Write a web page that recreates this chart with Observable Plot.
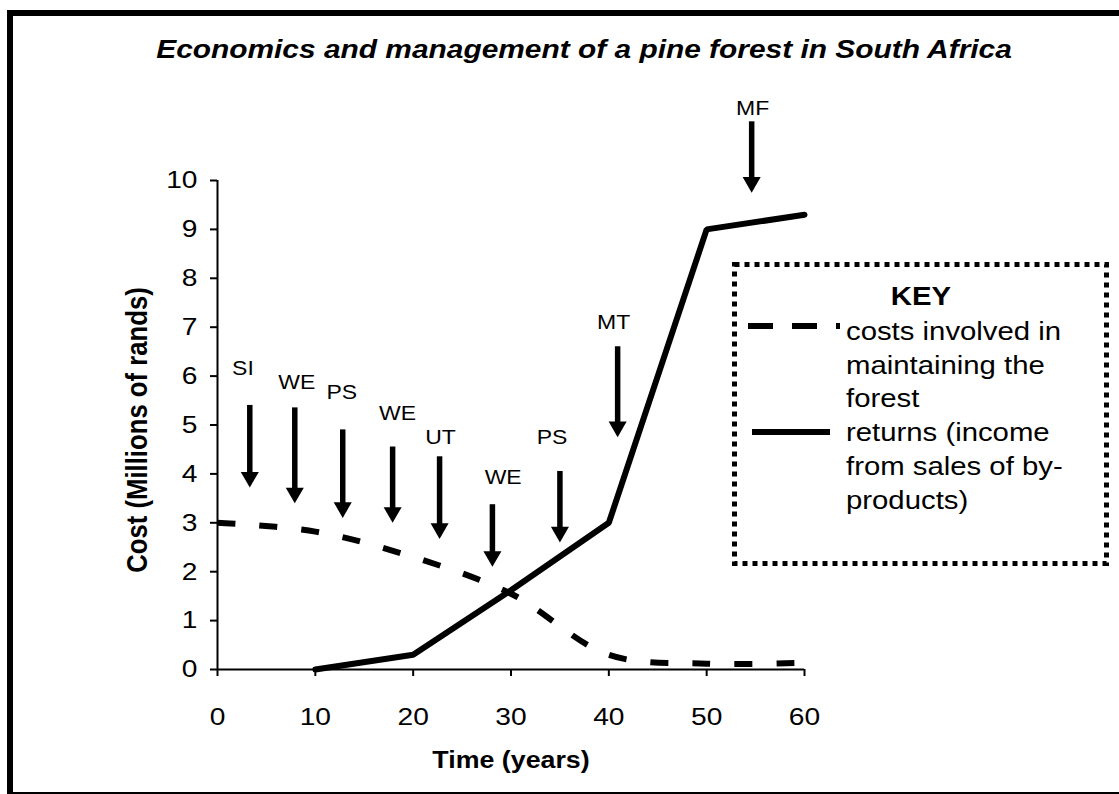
<!DOCTYPE html>
<html><head><meta charset="utf-8">
<script src="https://cdn.jsdelivr.net/npm/d3@7"></script>
<script src="https://cdn.jsdelivr.net/npm/@observablehq/plot@0.6"></script>
<style>
body{margin:0;background:#fff;font-family:"Liberation Sans",Arial,sans-serif;}
#wrap{position:relative;width:1119px;height:794px;overflow:hidden;background:#fff;}
#frame{position:absolute;left:7px;top:10px;width:1200px;height:776px;border:6px solid #000;}
#chart{position:absolute;left:0;top:0;}
#overlay{position:absolute;left:0;top:0;}
</style></head>
<body>
<div id="wrap">
  <div id="frame"></div>
  <div id="chart"></div>
  <svg id="overlay" width="1119" height="794"></svg>
</div>
<script>
// ---- data ----
const titleText = "Economics and management of a pine forest in South Africa";
const xLabel = "Time (years)";
const yLabel = "Cost (Millions of rands)";
const xTicks = [0, 10, 20, 30, 40, 50, 60];
const yTicks = [0, 1, 2, 3, 4, 5, 6, 7, 8, 9, 10];

const costYears = [0, 10, 20, 30, 40, 50, 60];
const costValues = [3.0, 2.82, 2.3, 1.55, 0.3, 0.12, 0.14];
const returnYears = [10, 20, 30, 40, 50, 60];
const returnValues = [0, 0.3, 1.62, 3.0, 9.0, 9.3];

const eventLabels = ["SI", "WE", "PS", "WE", "UT", "WE", "PS", "MT", "MF"];
const eventX      = [3.3, 7.9, 12.8, 17.9, 22.7, 28.1, 35.0, 40.9, 54.6];
const arrowTop    = [5.4, 5.35, 4.9, 4.55, 4.35, 3.37, 4.05, 6.6, 11.2];
const arrowTip    = [3.72, 3.4, 3.1, 3.0, 2.67, 2.1, 2.6, 4.75, 9.75];
const labelX      = [2.6, 8.1, 12.7, 18.4, 22.8, 29.2, 34.2, 40.5, 54.7];
const labelY      = [6.16, 5.87, 5.66, 5.24, 4.74, 3.93, 4.74, 7.1, 11.47];

const legendTitle = "KEY";
const legendCostLines = ["costs involved in", "maintaining the", "forest"];
const legendReturnLines = ["returns (income", "from sales of by-", "products)"];

// ---- tables ----
const costs = costYears.map((x, i) => ({x, y: costValues[i]}));
const returns = returnYears.map((x, i) => ({x, y: returnValues[i]}));
const events = eventLabels.map((label, i) => ({label, x: eventX[i], top: arrowTop[i], tip: arrowTip[i], lx: labelX[i], ly: labelY[i]}));

const font = "'Liberation Sans', Arial, sans-serif";
const S = 1.15; // horizontal stretch of the lettering in the original picture

const chart = Plot.plot({
  width: 1119,
  height: 794,
  marginLeft: 217,
  marginRight: 315,
  marginTop: 180,
  marginBottom: 125,
  style: {fontFamily: font, color: "#000", background: "transparent", overflow: "visible"},
  x: {domain: [0, 60]},
  y: {domain: [0, 10]},
  marks: [
    Plot.axisX({ticks: xTicks, tickSize: 7, tickPadding: 31.5, fontSize: 24.5, label: null, strokeWidth: 2}),
    Plot.axisY({ticks: yTicks, tickSize: 7, tickPadding: 13, fontSize: 24.5, label: null, strokeWidth: 2}),
    Plot.ruleY([0], {stroke: "#000", strokeWidth: 2}),
    Plot.ruleX([0], {stroke: "#000", strokeWidth: 2}),
    Plot.line(costs, {x: "x", y: "y", stroke: "#000", strokeWidth: 6, strokeDasharray: "18,24", curve: "catmull-rom", strokeLinecap: "butt"}),
    Plot.line(returns, {x: "x", y: "y", stroke: "#000", strokeWidth: 6, strokeLinejoin: "miter"}),
    Plot.ruleX(events, {x: "x", y1: "top", y2: "tip", stroke: "#000", strokeWidth: 5.5, insetBottom: 12}),
    Plot.dot(events, {x: "x", y: "tip", symbol: "triangle", r: 6.7, rotate: 180, fill: "#000", stroke: null, dy: -10.4}),
    Plot.text(events, {x: "lx", y: "ly", text: "label", fontSize: 20, fill: "#000"}),
    Plot.text([xLabel], {frameAnchor: "bottom", text: d => d, dy: 91, fontSize: 23.3, fontWeight: "bold", lineAnchor: "middle"}),
    Plot.text([yLabel], {frameAnchor: "left", text: d => d, rotate: -90, dx: -80, dy: 5, textAnchor: "middle", lineAnchor: "middle", fontSize: 25.7, fontWeight: "bold"})
  ]
});
document.getElementById("chart").appendChild(chart);

// widen the lettering like the original picture
d3.select(chart).selectAll("text").each(function() {
  const t = this.getAttribute("transform");
  if (t) {
    if (t.includes("rotate")) this.setAttribute("transform", t.replace("rotate", `scale(${S},1) rotate`));
    else this.setAttribute("transform", t + ` scale(${S},1)`);
  } else {
    const x = +this.getAttribute("x") || 0;
    this.setAttribute("transform", `translate(${x},0) scale(${S},1) translate(${-x},0)`);
  }
});

// ---- title and key box ----
const svg = d3.select("#overlay");
svg.append("text").attr("transform", `translate(584,58) scale(${S},1)`).attr("text-anchor", "middle")
  .attr("font-family", font).attr("font-weight", "bold").attr("font-style", "italic").attr("font-size", 26)
  .text(titleText);
svg.append("rect").attr("x", 734.5).attr("y", 264.5).attr("width", 372).attr("height", 299)
  .attr("fill", "none").attr("stroke", "#000").attr("stroke-width", 5).attr("stroke-dasharray", "5,5");
svg.append("text").attr("transform", `translate(921,305) scale(${S},1)`).attr("text-anchor", "middle")
  .attr("font-family", font).attr("font-weight", "bold").attr("font-size", 25.5).text(legendTitle);
svg.append("line").attr("x1", 748).attr("x2", 840).attr("y1", 326).attr("y2", 326)
  .attr("stroke", "#000").attr("stroke-width", 6).attr("stroke-dasharray", "25,19");
svg.append("line").attr("x1", 752).attr("x2", 830).attr("y1", 432).attr("y2", 432)
  .attr("stroke", "#000").attr("stroke-width", 6);
legendCostLines.concat(legendReturnLines).forEach((t, i) => {
  svg.append("text").attr("transform", `translate(846,${340 + i * 33.7}) scale(${S},1)`)
    .attr("font-family", font).attr("font-size", 25.5).text(t);
});
</script>
</body></html>
